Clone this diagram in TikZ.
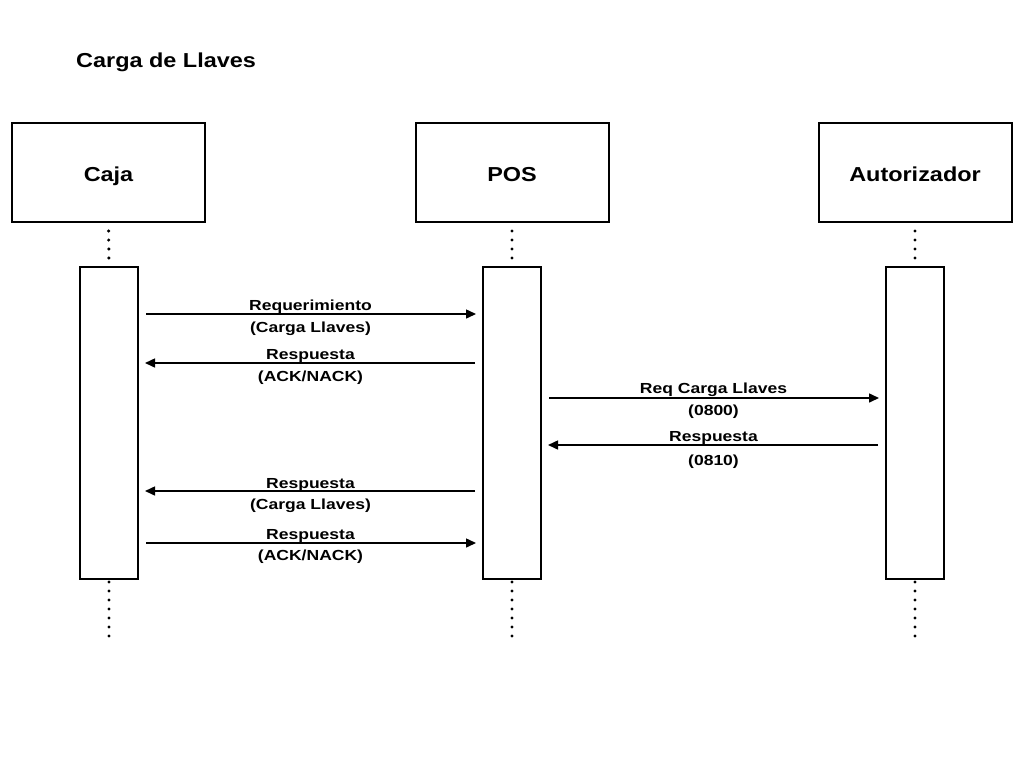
\documentclass[tikz,border=0pt]{standalone}
\usepackage{fontspec}
\setmainfont{Liberation Sans}[FakeStretch=1.16]
\newfontfamily\labfont{Liberation Sans}[FakeStretch=1.2]
\usetikzlibrary{arrows.meta}
\begin{document}
\begin{tikzpicture}[x=1pt,y=-1pt,
  actor/.style={draw,line width=2pt,minimum width=193pt,minimum height=99pt,inner sep=0pt,text height=17pt,text depth=0pt,font=\fontsize{20.2}{22}\selectfont\bfseries},
  act/.style={draw,line width=2pt,minimum width=58pt,minimum height=312pt,inner sep=0pt},
  life/.style={line width=3.4pt,line cap=round,dash pattern=on 0pt off 9pt},
  msg/.style={line width=1.5pt,-{Triangle[length=10pt,width=9pt]},shorten <=7pt,shorten >=6pt},
  lab/.style={font=\labfont\fontsize{14.6}{16}\selectfont\bfseries,inner sep=0pt,anchor=base},
]
\useasboundingbox (0,0) rectangle (1024,768);
\node[anchor=base west,font=\fontsize{20.2}{22}\selectfont\bfseries,inner sep=0pt] (title) at (76,67) {Carga de Llaves};

\node[actor] (caja) at (108.5,172.5) {Caja};
\node[actor] (pos) at (512,172.5) {POS};
\node[actor] (aut) at (915,172.5) {Autorizador};

\node[act] (actC) at (109,423) {};
\node[act] (actP) at (512,423) {};
\node[act] (actA) at (915,423) {};

\coordinate (endC) at (109,636);
\coordinate (endP) at (512,636);
\coordinate (endA) at (915,636);

\foreach \a/\b in {caja/actC,pos/actP,aut/actA}{
  \draw[life,shorten <=8pt,shorten >=0.5pt] (\a.south) -- (\b.north);
}
\foreach \a/\b in {actC/endC,actP/endP,actA/endA}{
  \draw[life,shorten <=2pt] (\a.south) -- (\b);
}

\draw[msg] (actC.east |- 0,314) -- node[lab,yshift=4pt]{Requerimiento} node[lab,yshift=-18pt]{(Carga Llaves)} (actP.west |- 0,314);
\draw[msg] (actP.west |- 0,363) -- node[lab,yshift=4pt]{Respuesta} node[lab,yshift=-18pt]{(ACK/NACK)} (actC.east |- 0,363);
\draw[msg] (actP.east |- 0,398) -- node[lab,yshift=5pt]{Req Carga Llaves} node[lab,yshift=-17pt]{(0800)} (actA.west |- 0,398);
\draw[msg] (actA.west |- 0,445) -- node[lab,yshift=4pt]{Respuesta} node[lab,yshift=-20pt]{(0810)} (actP.east |- 0,445);
\draw[msg] (actP.west |- 0,491) -- node[lab,yshift=3pt]{Respuesta} node[lab,yshift=-18pt]{(Carga Llaves)} (actC.east |- 0,491);
\draw[msg] (actC.east |- 0,543) -- node[lab,yshift=4pt]{Respuesta} node[lab,yshift=-17pt]{(ACK/NACK)} (actP.west |- 0,543);
\end{tikzpicture}
\end{document}
